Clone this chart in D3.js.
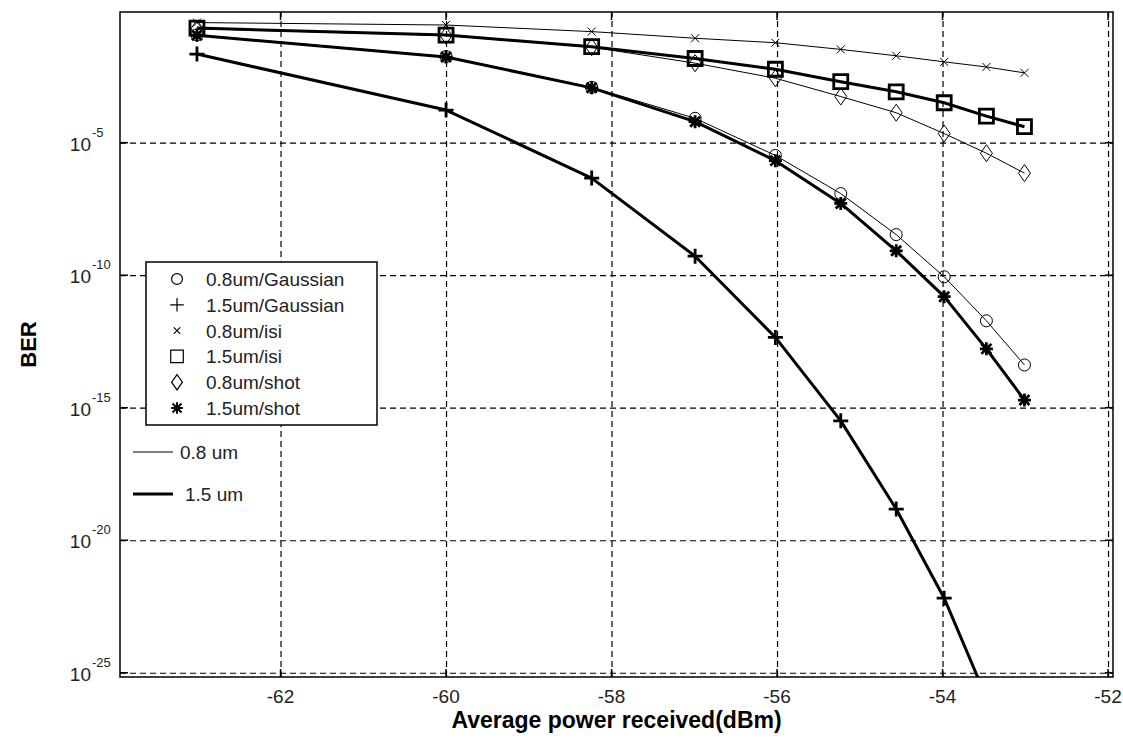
<!DOCTYPE html>
<html>
<head>
<meta charset="utf-8">
<script src="https://cdn.jsdelivr.net/npm/d3@7"></script>
<style>
  body { margin: 0; background: #fff; }
  svg { display: block; font-family: "Liberation Sans", Arial, sans-serif; }
</style>
</head>
<body>
<div id="chart"></div>
<script>
// Data: received power (dBm) and BER per noise case

var power = [-63.01, -60, -58.24, -56.99, -56.02, -55.23, -54.56, -53.98, -53.47, -53.01];

var berGauss08 = [1.17e-1, 1.78e-2, 1.23e-3, 8.3e-5, 3.3e-6, 1.2e-7, 3.4e-9, 8.7e-11, 1.9e-12, 4.1e-14];
var berGauss15 = [2.2e-2, 1.7e-4, 4.6e-7, 5.2e-10, 4.5e-13, 3.2e-16, 1.5e-19, 6.5e-23, 1.15e-26, 2.5e-30];
var berIsi08   = [0.34, 0.275, 0.155, 0.087, 0.059, 0.033, 0.019, 0.0112, 0.0072, 0.0043];
var berIsi15   = [0.21, 0.115, 0.042, 0.015, 5.9e-3, 2.0e-3, 8.3e-4, 3.2e-4, 1.0e-4, 4.0e-5];
var berShot08  = [0.20, 0.11, 0.040, 0.010, 2.7e-3, 5.5e-4, 1.35e-4, 2.2e-5, 4.0e-6, 7.1e-7];
var berShot15  = [0.112, 0.017, 1.17e-3, 6.2e-5, 2.1e-6, 5.1e-8, 8.3e-10, 1.55e-11, 1.66e-13, 1.95e-15];

var seriesNames = ["0.8um/Gaussian", "1.5um/Gaussian", "0.8um/isi", "1.5um/isi", "0.8um/shot", "1.5um/shot"];
var xTicks = [-62, -60, -58, -56, -54, -52];
var yTickExps = [-25, -20, -15, -10, -5];
var widthNames = ["0.8 um", "1.5 um"];

// Layout

var width = 1123, height = 740;
var pLeft = 120, pRight = 1113, pTop = 12, pBottom = 677;

var svg = d3.select("#chart").append("svg")
    .attr("width", width)
    .attr("height", height);

svg.append("rect").attr("width", width).attr("height", height).attr("fill", "#fff");

var x = d3.scaleLinear().domain([-63.94, -51.94]).range([pLeft, pRight]);
var y = d3.scaleLog().domain([Math.pow(10, -25.16), Math.pow(10, -0.07)]).range([pBottom, pTop]);

// Grid (dashed)

svg.append("g")
    .attr("transform", "translate(0," + pBottom + ")")
    .call(d3.axisBottom(x).tickValues(xTicks).tickSize(-(pBottom - pTop)).tickFormat(""))
    .call(g => g.select(".domain").remove())
    .selectAll("line").attr("stroke", "#000").attr("stroke-width", 1.2).attr("stroke-dasharray", "6,4");

svg.append("g")
    .attr("transform", "translate(" + pLeft + ",0)")
    .call(d3.axisLeft(y).tickValues(yTickExps.map(e => Math.pow(10, e))).tickSize(-(pRight - pLeft)).tickFormat(""))
    .call(g => g.select(".domain").remove())
    .selectAll("line").attr("stroke", "#000").attr("stroke-width", 1.2).attr("stroke-dasharray", "6,4");

// Box + inward ticks on all sides

svg.append("rect")
    .attr("x", pLeft).attr("y", pTop)
    .attr("width", pRight - pLeft).attr("height", pBottom - pTop)
    .attr("fill", "none").attr("stroke", "#000").attr("stroke-width", 1.5);

var tk = 8;
xTicks.forEach(function(v) {
  svg.append("line").attr("x1", x(v)).attr("x2", x(v)).attr("y1", pBottom).attr("y2", pBottom - tk).attr("stroke", "#000").attr("stroke-width", 1.5);
  svg.append("line").attr("x1", x(v)).attr("x2", x(v)).attr("y1", pTop).attr("y2", pTop + tk).attr("stroke", "#000").attr("stroke-width", 1.5);
});
yTickExps.forEach(function(e) {
  var yy = y(Math.pow(10, e));
  svg.append("line").attr("x1", pLeft).attr("x2", pLeft + tk).attr("y1", yy).attr("y2", yy).attr("stroke", "#000").attr("stroke-width", 1.5);
  svg.append("line").attr("x1", pRight).attr("x2", pRight - tk).attr("y1", yy).attr("y2", yy).attr("stroke", "#000").attr("stroke-width", 1.5);
});

// Tick labels

xTicks.forEach(function(v) {
  svg.append("text")
      .attr("x", x(v)).attr("y", 703)
      .attr("text-anchor", "middle")
      .attr("font-size", 19)
      .attr("fill", "#222")
      .text(v);
});

yTickExps.forEach(function(e) {
  var yy = y(Math.pow(10, e));
  svg.append("text")
      .attr("x", 91).attr("y", yy + 8)
      .attr("text-anchor", "end")
      .attr("font-size", 19)
      .attr("fill", "#222")
      .text("10");
  svg.append("text")
      .attr("x", 92).attr("y", yy - 6)
      .attr("font-size", 13)
      .attr("fill", "#222")
      .text(e);
});

// Axis labels

svg.append("text")
    .attr("x", (pLeft + pRight) / 2).attr("y", 728)
    .attr("text-anchor", "middle")
    .attr("font-size", 23).attr("font-weight", "bold")
    .text("Average power received(dBm)");

svg.append("text")
    .attr("transform", "translate(36," + (pTop + pBottom) / 2 + ") rotate(-90)")
    .attr("text-anchor", "middle")
    .attr("font-size", 22).attr("font-weight", "bold")
    .text("BER");

// Marker shapes

function mk(type, cx, cy, s) {
  s = s || 1;
  switch (type) {
    case "circle":
      var r = 6 * s;
      return "M" + (cx - r) + "," + cy + "a" + r + "," + r + " 0 1,0 " + (2 * r) + ",0a" + r + "," + r + " 0 1,0 " + (-2 * r) + ",0Z";
    case "plus":
      var p = 7.5 * s;
      return "M" + (cx - p) + "," + cy + "H" + (cx + p) + "M" + cx + "," + (cy - p) + "V" + (cy + p);
    case "times":
      var q = 4 * s;
      return "M" + (cx - q) + "," + (cy - q) + "L" + (cx + q) + "," + (cy + q) + "M" + (cx - q) + "," + (cy + q) + "L" + (cx + q) + "," + (cy - q);
    case "square":
      var h = 7 * s;
      return "M" + (cx - h) + "," + (cy - h) + "H" + (cx + h) + "V" + (cy + h) + "H" + (cx - h) + "Z";
    case "diamond":
      var dw = 6 * s, dh = 8.5 * s;
      return "M" + cx + "," + (cy - dh) + "L" + (cx + dw) + "," + cy + "L" + cx + "," + (cy + dh) + "L" + (cx - dw) + "," + cy + "Z";
    case "asterisk":
      var a = 6.5 * s, b = 5 * s;
      return "M" + (cx - a) + "," + cy + "H" + (cx + a) + "M" + cx + "," + (cy - a) + "V" + (cy + a) +
             "M" + (cx - b) + "," + (cy - b) + "L" + (cx + b) + "," + (cy + b) + "M" + (cx - b) + "," + (cy + b) + "L" + (cx + b) + "," + (cy - b);
  }
}

var series = [
  { name: seriesNames[0], values: berGauss08, marker: "circle",   lw: 1, mw: 1 },
  { name: seriesNames[1], values: berGauss15, marker: "plus",     lw: 3, mw: 2.8 },
  { name: seriesNames[2], values: berIsi08,   marker: "times",    lw: 1, mw: 1 },
  { name: seriesNames[3], values: berIsi15,   marker: "square",   lw: 3, mw: 2.8 },
  { name: seriesNames[4], values: berShot08,  marker: "diamond",  lw: 1, mw: 1 },
  { name: seriesNames[5], values: berShot15,  marker: "asterisk", lw: 3, mw: 2.8 }
];

svg.append("clipPath").attr("id", "plotclip")
  .append("rect").attr("x", pLeft).attr("y", pTop).attr("width", pRight - pLeft).attr("height", pBottom - pTop);

var plot = svg.append("g").attr("clip-path", "url(#plotclip)");

var line = d3.line().x(d => x(d[0])).y(d => y(d[1]));

series.forEach(function(s) {
  var pts = power.map((p, i) => [p, s.values[i]]);
  plot.append("path")
      .attr("d", line(pts))
      .attr("fill", "none").attr("stroke", "#000")
      .attr("stroke-width", s.lw).attr("stroke-linejoin", "round");
  plot.append("path")
      .attr("d", pts.map(d => mk(s.marker, x(d[0]), y(d[1]))).join(""))
      .attr("fill", "none").attr("stroke", "#000").attr("stroke-width", s.mw);
});

// Legend

var lg = svg.append("g");
lg.append("rect")
    .attr("x", 146).attr("y", 262).attr("width", 231).attr("height", 163)
    .attr("fill", "#fff").attr("stroke", "#000").attr("stroke-width", 1.5);

series.forEach(function(s, i) {
  var ly = 279 + i * 25.8;
  lg.append("path")
      .attr("d", mk(s.marker, 177, ly, s.marker == "times" ? 0.8 : 0.9))
      .attr("fill", "none").attr("stroke", "#000")
      .attr("stroke-width", s.marker == "asterisk" ? 2 : 1.2);
  lg.append("text")
      .attr("x", 206).attr("y", ly + 7)
      .attr("font-size", 19).attr("fill", "#222")
      .text(s.name);
});

// Line-width key

[[452, 1, 180], [494, 3, 185]].forEach(function(k, i) {
  svg.append("line")
      .attr("x1", 133).attr("x2", 173).attr("y1", k[0]).attr("y2", k[0])
      .attr("stroke", "#000").attr("stroke-width", k[1]);
  svg.append("text")
      .attr("x", k[2]).attr("y", k[0] + 7)
      .attr("font-size", 19).attr("fill", "#222")
      .text(widthNames[i]);
});
</script>
</body>
</html>
